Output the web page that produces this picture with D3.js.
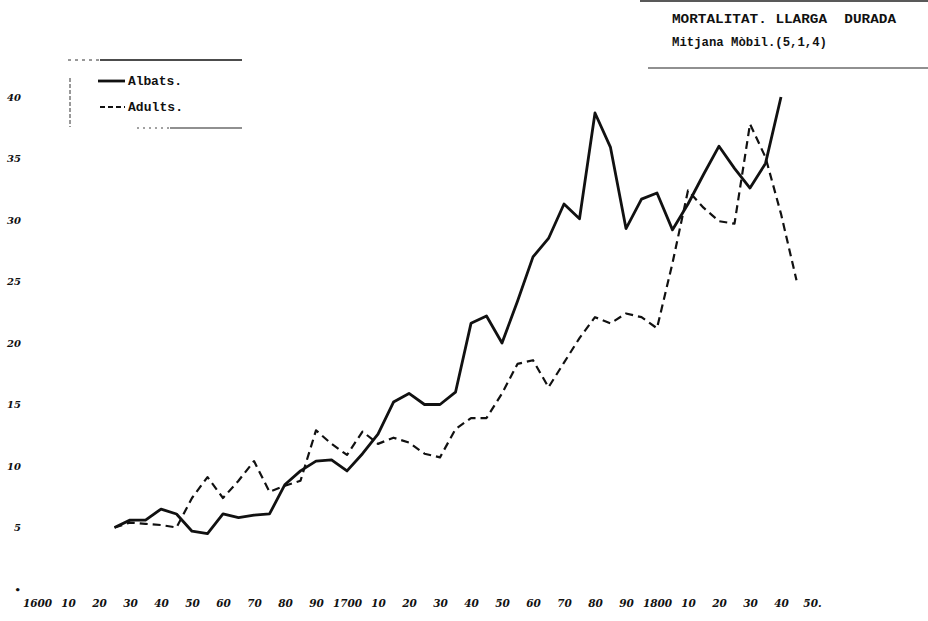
<!DOCTYPE html>
<html>
<head>
<meta charset="utf-8">
<script src="https://cdn.jsdelivr.net/npm/d3@7"></script>
<style>
  body { margin: 0; background: #fff; }
  svg { display: block; }
  .mono { font-family: "Liberation Mono", "DejaVu Sans Mono", monospace; font-weight: bold; fill: #111; white-space: pre; }
  .hand { font-family: "DejaVu Serif", serif; font-style: italic; font-weight: bold; fill: #111; }
</style>
</head>
<body>
<div id="chart"></div>
<script>
// 5-year points, moving average (5,1,4)
const years = [1625,1630,1635,1640,1645,1650,1655,1660,1665,1670,1675,1680,1685,1690,1695,
  1700,1705,1710,1715,1720,1725,1730,1735,1740,1745,1750,1755,1760,1765,1770,1775,
  1780,1785,1790,1795,1800,1805,1810,1815,1820,1825,1830,1835,1840,1845];

const albats = [5.0,5.6,5.6,6.5,6.1,4.7,4.5,6.1,5.8,6.0,6.1,8.5,9.6,10.4,10.5,
  9.6,11.0,12.6,15.2,15.9,15.0,15.0,16.0,21.6,22.2,20.0,23.4,27.0,28.5,31.3,30.1,
  38.7,35.9,29.3,31.7,32.2,29.2,31.3,33.7,36.0,34.2,32.6,34.6,40.0];

const adults = [5.0,5.4,5.3,5.2,5.0,7.4,9.1,7.4,8.8,10.4,7.9,8.4,8.8,12.9,11.8,
  10.9,12.8,11.8,12.3,11.9,11.0,10.7,13.0,13.9,13.9,15.9,18.3,18.6,16.4,18.4,20.4,
  22.1,21.6,22.4,22.1,21.2,26.5,32.4,31.0,29.9,29.7,37.8,35.1,30.5,25.1];

const xTicks = [1600,1610,1620,1630,1640,1650,1660,1670,1680,1690,1700,1710,1720,1730,1740,
  1750,1760,1770,1780,1790,1800,1810,1820,1830,1840,1850];
const xLabels = ['1600','10','20','30','40','50','60','70','80','90','1700','10','20','30','40',
  '50','60','70','80','90','1800','10','20','30','40','50.'];
const yTicks = [0,5,10,15,20,25,30,35,40];
const yLabels = ['•','5','10','15','20','25','30','35','40'];

const width = 928, height = 621;

const svg = d3.select('#chart').append('svg')
  .attr('width', width)
  .attr('height', height);

const x = d3.scaleLinear().domain([1600, 1850]).range([37, 812]);
const y = d3.scaleLinear().domain([0, 40]).range([589, 97]);

// axes: labels only
const xAxis = d3.axisBottom(x).tickValues(xTicks)
  .tickFormat((d, i) => xLabels[i]).tickSize(0);
svg.append('g')
  .attr('transform', 'translate(0,597)')
  .call(xAxis)
  .call(g => g.select('.domain').remove())
  .selectAll('text')
  .attr('class', 'hand')
  .attr('font-size', 10.5);

const yAxis = d3.axisLeft(y).tickValues(yTicks)
  .tickFormat((d, i) => yLabels[i]).tickSize(0);
svg.append('g')
  .attr('transform', 'translate(24,0)')
  .call(yAxis)
  .call(g => g.select('.domain').remove())
  .selectAll('text')
  .attr('class', 'hand')
  .attr('font-size', 10);

// lines
const line = d3.line()
  .x((d, i) => x(years[i]))
  .y(d => y(d));

svg.append('path')
  .datum(adults)
  .attr('d', line)
  .attr('fill', 'none')
  .attr('stroke', '#111')
  .attr('stroke-width', 2.2)
  .attr('stroke-dasharray', '8,5')
  .attr('stroke-linejoin', 'round');

svg.append('path')
  .datum(albats)
  .attr('d', line)
  .attr('fill', 'none')
  .attr('stroke', '#111')
  .attr('stroke-width', 2.8)
  .attr('stroke-linejoin', 'round');

// legend box
const lg = svg.append('g');
lg.append('line').attr('x1', 68).attr('x2', 100).attr('y1', 60).attr('y2', 60)
  .attr('stroke', '#333').attr('stroke-width', 1).attr('stroke-dasharray', '3,4');
lg.append('line').attr('x1', 100).attr('x2', 242).attr('y1', 60).attr('y2', 60)
  .attr('stroke', '#111').attr('stroke-width', 1.3);
lg.append('line').attr('x1', 70).attr('x2', 70).attr('y1', 78).attr('y2', 127)
  .attr('stroke', '#333').attr('stroke-width', 1).attr('stroke-dasharray', '4,2');
lg.append('line').attr('x1', 137).attr('x2', 170).attr('y1', 128).attr('y2', 128)
  .attr('stroke', '#444').attr('stroke-width', 1).attr('stroke-dasharray', '2,4');
lg.append('line').attr('x1', 170).attr('x2', 242).attr('y1', 128).attr('y2', 128)
  .attr('stroke', '#222').attr('stroke-width', 1.2);

lg.append('line').attr('x1', 98).attr('x2', 125).attr('y1', 81).attr('y2', 81)
  .attr('stroke', '#111').attr('stroke-width', 2.8);
lg.append('line').attr('x1', 100).attr('x2', 125).attr('y1', 107).attr('y2', 107)
  .attr('stroke', '#111').attr('stroke-width', 1.8).attr('stroke-dasharray', '5,3');
lg.append('text').attr('class', 'mono').attr('x', 128).attr('y', 85)
  .attr('font-size', 13).attr('textLength', 54).text('Albats.');
lg.append('text').attr('class', 'mono').attr('x', 128).attr('y', 111)
  .attr('font-size', 13).attr('textLength', 55).text('Adults.');

// title block
svg.append('line').attr('x1', 640).attr('x2', 928).attr('y1', 1).attr('y2', 1)
  .attr('stroke', '#222').attr('stroke-width', 1.5);
svg.append('text').attr('class', 'mono').attr('x', 672).attr('y', 23)
  .attr('font-size', 13.5).attr('textLength', 224).attr('lengthAdjust', 'spacingAndGlyphs')
  .text('MORTALITAT. LLARGA  DURADA');
svg.append('text').attr('class', 'mono').attr('x', 672).attr('y', 46)
  .attr('font-size', 12.5).attr('textLength', 155).attr('lengthAdjust', 'spacingAndGlyphs')
  .text('Mitjana Mòbil.(5,1,4)');
svg.append('line').attr('x1', 648).attr('x2', 928).attr('y1', 68).attr('y2', 68)
  .attr('stroke', '#222').attr('stroke-width', 1.2);
</script>
</body>
</html>
